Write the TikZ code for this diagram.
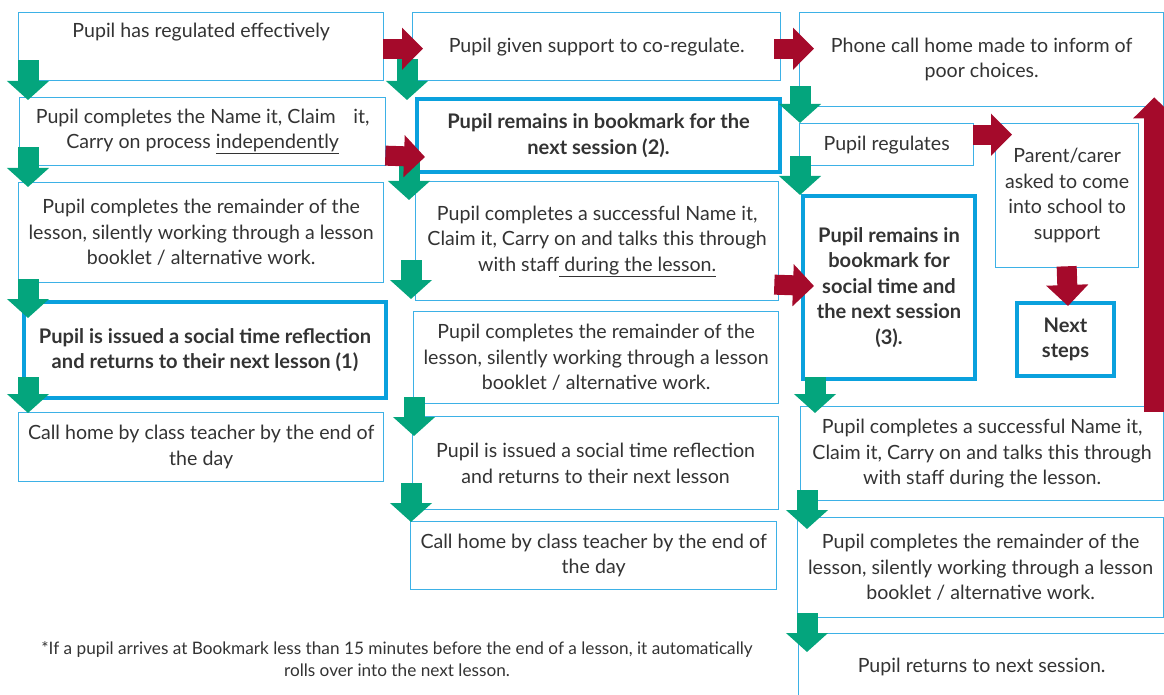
\documentclass[tikz,border=0pt]{standalone}
\usepackage{fontspec}
\setmainfont{Lato}
\usetikzlibrary{arrows.meta,calc}
\definecolor{tblue}{HTML}{3DB1E6}
\definecolor{kblue}{HTML}{0AA1DD}
\definecolor{agreen}{HTML}{04A57D}
\definecolor{ared}{HTML}{A50A2B}
\definecolor{tgray}{HTML}{333333}
\begin{document}
\begin{tikzpicture}[x=1pt,y=-1pt,
 box/.style={draw=tblue, line width=1.3pt, anchor=north west, inner sep=0pt, align=center,
   font=\fontsize{19.6}{25.5}\selectfont, text=tgray},
 kbox/.style={box, draw=kblue, line width=4pt, font=\fontsize{20.1}{25.5}\selectfont\bfseries},
 garrow/.style={draw=agreen, line width=21pt, -{Triangle[width=41pt,length=19pt]}},
 rarrow/.style={draw=ared, line width=20pt, -{Triangle[width=41pt,length=21pt]}},
 note/.style={align=center, text=tgray, font=\fontsize{17.2}{22}\selectfont}]
\useasboundingbox (0,0) rectangle (1164,695);
% left column
\node[box, minimum width=365pt, minimum height=68pt] (L1) at (18,12) {Pupil has regulated effectively\\\strut};
\node[box, minimum width=366pt, minimum height=68pt] (L2) at (19,97) {Pupil completes the Name it, Claim\hspace{0.9em}it,\\Carry on process \underline{independently}};
\node[box, minimum width=365pt, minimum height=100pt] (L3) at (18,182) {Pupil completes the remainder of the\\lesson, silently working through a lesson\\booklet / alternative work.};
\node[kbox, minimum width=362pt, minimum height=96pt] (L4) at (22,300) {Pupil is issued a social time reflection\\and returns to their next lesson (1)};
\node[box, minimum width=365pt, minimum height=69pt] (L5) at (18,412) {Call home by class teacher by the end of\\the day};
% middle column
\node[box, minimum width=368pt, minimum height=68pt] (M1) at (412,12) {Pupil given support to co-regulate.};
\node[kbox, minimum width=363pt, minimum height=73pt] (M2) at (415,97) {Pupil remains in bookmark for the\\next session (2).};
\node[box, minimum width=363pt, minimum height=119pt] (M3) at (415,181) {Pupil completes a successful Name it,\\Claim it, Carry on and talks this through\\with staff\underline{\ during the lesson.}};
\node[box, minimum width=365pt, minimum height=92pt] (M4) at (413,311) {Pupil completes the remainder of the\\lesson, silently working through a lesson\\booklet / alternative work.};
\node[box, minimum width=366pt, minimum height=93pt] (M5) at (412,416) {Pupil is issued a social time reflection\\and returns to their next lesson};
\node[box, minimum width=366pt, minimum height=68pt] (M6) at (410,521) {Call home by class teacher by the end of\\the day};
% right column
\node[box, minimum width=364pt, minimum height=94pt] (R1) at (799,12) {Phone call home made to inform of\\poor choices.};
\node[box, minimum width=174pt, minimum height=42pt] (R2) at (799,123) {Pupil regulates};
\node[box, minimum width=143pt, minimum height=144pt] (R3) at (995,123) {Parent/carer\\asked to come\\into school to\\support};
\node[kbox, minimum width=172pt, minimum height=183pt] (R4) at (801,194) {Pupil remains in\\bookmark for\\social time and\\the next session\\(3).};
\node[kbox, minimum width=97pt, minimum height=73pt] (R5) at (1015,301) {Next\\steps};
\node[box, minimum width=363pt, minimum height=94pt] (R6) at (800,406) {Pupil completes a successful Name it,\\Claim it, Carry on and talks this through\\with staff during the lesson.};
\node[box, minimum width=366pt, minimum height=100pt] (R7) at (797,517) {Pupil completes the remainder of the\\lesson, silently working through a lesson\\booklet / alternative work.};
\node[box, minimum width=366pt, minimum height=66pt] (R8) at (798,633) {Pupil returns to next session.};
% footnote
\node[note] (N) at (397,659) {*If a pupil arrives at Bookmark less than 15 minutes before the end of a lesson, it automatically\\rolls over into the next lesson.};
% green arrows
\draw[garrow] ($(L1.south west)+(10,-21)$) -- ($(L2.north west)+(9,3)$);
\draw[garrow] ($(L2.south west)+(9,-19)$) -- ($(L3.north west)+(10,5)$);
\draw[garrow] ($(L3.south west)+(10,-4)$) -- ($(L4.north west)+(6,18)$);
\draw[garrow] ($(L4.south west)+(6,-23)$) -- ($(L5.north west)+(10,1)$);
\draw[garrow] ($(M1.south west)+(-5,-22)$) -- ($(M2.north west)+(-8,3)$);
\draw[garrow] ($(M2.south west)+(-6,-12)$) -- ($(M3.north west)+(-6,19)$);
\draw[garrow] ($(M3.south west)+(-4,-41)$) -- ($(M4.north west)+(-2,-12)$);
\draw[garrow] ($(M4.south west)+(1,-7)$) -- ($(M5.north west)+(2,20)$);
\draw[garrow] ($(M5.south west)+(-1,-27)$) -- ($(M6.north west)+(1,1)$);
\draw[garrow] ($(R1.south west)+(1,-21)$) -- ($(R2.north west)+(1,0)$);
\draw[garrow] ($(R2.south west)+(1,-10)$) -- ($(R4.north west)+(-1,1)$);
\draw[garrow] ($(R4.south west)+(14,-4)$) -- ($(R6.north west)+(15,7)$);
\draw[garrow] ($(R6.south west)+(7,-11)$) -- ($(R7.north west)+(10,12)$);
\draw[garrow] ($(R7.south west)+(10,-5)$) -- ($(R8.north west)+(9,19)$);
% red arrows
\draw[rarrow] ($(L1.east)+(-1,2)$) -- ($(M1.west)+(11,2)$);
\draw[rarrow] ($(M1.east)+(-7,2)$) -- ($(R1.west)+(15,-11)$);
\draw[rarrow] ($(L2.east)+(-1,24)$) -- ($(M2.west)+(10,21.5)$);
\draw[rarrow] ($(M3.east)+(-5,43.5)$) -- ($(R4.west)+(13,-1.5)$);
\draw[rarrow] ($(R2.east)+(-1,-10)$) -- ($(R3.west)+(17,-61)$);
\draw[rarrow] ($(R3.south)+(-0.5,-2)$) -- ($(R5.north)+(2.5,5)$);
\draw[rarrow] ($(R6.north east)+(-10,6)$) -- ($(R1.south east)+(-10,-10)$);
\end{tikzpicture}
\end{document}
